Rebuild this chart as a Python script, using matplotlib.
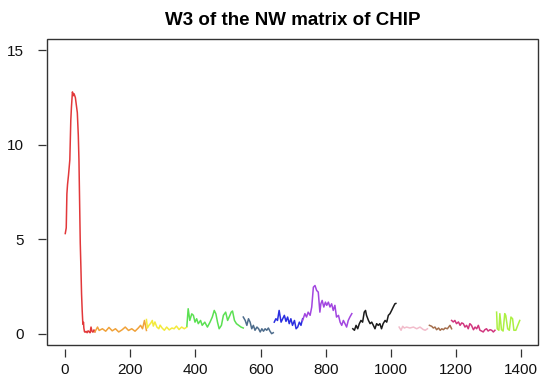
import matplotlib
matplotlib.use("Agg")
import matplotlib.pyplot as plt
from matplotlib.patches import Rectangle

plt.rcParams['font.family'] = ['Liberation Sans', 'DejaVu Sans']

# one line per block of W3, each block in its own colour
red_x = [1, 4, 6, 8, 11, 15, 18, 20, 23, 26, 28, 32, 35, 38, 41, 43, 45, 47, 49, 51,
         53, 55, 57, 58, 60, 62, 65, 68, 71, 74, 77, 80, 83, 86, 89, 92]
red_y = [5.3, 5.6, 7.4, 7.9, 8.4, 9.2, 11.3, 12.0, 12.8, 12.6, 12.7, 12.5, 12.1, 11.7, 10.5, 9.2, 7.0, 4.8, 3.5, 2.1,
         1.2, 0.5, 0.6, 0.3, 0.1, 0.08, 0.12, 0.05, 0.15, 0.1, 0.05, 0.35, 0.12, 0.08, 0.2, 0.1]

orange_x = [92, 100, 105, 115, 125, 135, 145, 155, 165, 175, 185, 195, 205, 215, 225, 232, 238, 244, 250]
orange_y = [0.1, 0.35, 0.17, 0.26, 0.13, 0.33, 0.15, 0.26, 0.09, 0.2, 0.35, 0.17, 0.26, 0.13, 0.3, 0.44, 0.26, 0.7, 0.17]

yellow_x = [250, 253, 258, 263, 268, 271, 276, 282, 288, 292, 298, 305, 312, 320, 328, 335, 342, 350, 358, 366, 374]
yellow_y = [0.75, 0.3, 0.45, 0.55, 0.7, 0.4, 0.62, 0.35, 0.26, 0.45, 0.3, 0.18, 0.35, 0.2, 0.3, 0.26, 0.4, 0.22, 0.35, 0.26, 0.35]

green_x = [374, 378, 383, 389, 394, 399, 404, 409, 416, 421, 429, 437, 445, 452, 458, 463, 468, 473, 480,
           486, 493, 499, 506, 510, 514, 520, 526, 533, 540, 547]
green_y = [0.4, 1.32, 0.7, 1.05, 0.97, 0.61, 0.79, 0.53, 0.7, 0.44, 0.61, 0.35, 0.61, 0.88, 1.23, 1.05, 0.61, 0.26, 0.44,
           0.97, 1.14, 0.7, 0.97, 1.14, 1.2, 0.7, 0.53, 0.44, 0.35, 0.3]

slate_x = [547, 553, 558, 563, 568, 573, 578, 583, 589, 594, 599, 604, 609, 614, 619, 624, 629, 634, 639]
slate_y = [0.88, 0.7, 0.44, 0.79, 0.61, 0.26, 0.44, 0.18, 0.35, 0.26, 0.09, 0.26, 0.13, 0.26, 0.18, 0.3, 0.13, 0.0, 0.05]

blue_x = [642, 647, 652, 657, 663, 668, 673, 678, 683, 688, 693, 698, 704, 709, 714, 719, 724, 729]
blue_y = [0.61, 0.79, 0.7, 1.23, 0.61, 0.79, 0.97, 0.65, 0.88, 0.53, 0.79, 0.44, 0.7, 0.26, 0.35, 0.61, 0.44, 0.79]

purple_x = [729, 736, 741, 746, 752, 757, 762, 767, 772, 777, 782, 785, 789, 794, 799, 803, 808, 813,
            818, 823, 828, 833, 839, 844, 849, 854, 859, 864, 869, 874, 880]
purple_y = [0.7, 1.06, 0.88, 1.14, 0.97, 1.41, 2.46, 2.55, 2.29, 2.2, 1.14, 1.58, 1.76, 1.41, 1.67, 1.5, 1.67, 1.41,
            1.58, 1.23, 1.5, 0.88, 0.97, 0.61, 0.44, 0.7, 0.53, 0.35, 0.7, 0.88, 1.06]

black_x = [883, 888, 893, 898, 903, 908, 913, 918, 922, 925, 931, 936, 941, 946, 951, 956, 961, 966,
           971, 976, 982, 987, 992, 997, 1002, 1007, 1012, 1015]
black_y = [0.26, 0.18, 0.44, 0.26, 0.53, 0.7, 0.61, 1.14, 1.23, 0.97, 0.7, 0.53, 0.61, 0.44, 0.26, 0.53, 0.44, 0.53,
           0.26, 0.53, 0.7, 0.61, 0.97, 1.06, 1.23, 1.41, 1.58, 1.6]

pink_x = [1025, 1031, 1036, 1041, 1048, 1058, 1069, 1079, 1089, 1099, 1105, 1112]
pink_y = [0.35, 0.18, 0.39, 0.3, 0.35, 0.3, 0.35, 0.26, 0.35, 0.22, 0.18, 0.26]

brown_x = [1118, 1125, 1130, 1135, 1140, 1146, 1151, 1156, 1161, 1166, 1173, 1181, 1186]
brown_y = [0.44, 0.39, 0.3, 0.35, 0.21, 0.3, 0.18, 0.26, 0.21, 0.3, 0.26, 0.44, 0.26]

magenta_x = [1186, 1191, 1196, 1201, 1207, 1212, 1217, 1222, 1227, 1232, 1237, 1242, 1247, 1253,
             1258, 1263, 1268, 1273, 1278, 1283, 1288, 1293, 1298, 1304, 1309, 1314, 1319]
magenta_y = [0.7, 0.62, 0.7, 0.53, 0.62, 0.44, 0.57, 0.53, 0.35, 0.44, 0.26, 0.53, 0.44, 0.21,
             0.35, 0.26, 0.44, 0.18, 0.14, 0.09, 0.21, 0.26, 0.14, 0.21, 0.18, 0.09, 0.18]

lime_x = [1324, 1326, 1331, 1334, 1339, 1344, 1349, 1352, 1358, 1363, 1368, 1373, 1377, 1383, 1391, 1395]
lime_y = [1.14, 0.26, 0.18, 1.06, 0.21, 0.14, 1.06, 0.97, 0.26, 0.18, 0.88, 0.79, 0.18, 0.18, 0.53, 0.7]

segments = [
    (red_x, red_y, '#e2383a'),
    (orange_x, orange_y, '#f0a23a'),
    (yellow_x, yellow_y, '#f3ea3c'),
    (green_x, green_y, '#5be052'),
    (slate_x, slate_y, '#4d6c8c'),
    (blue_x, blue_y, '#2a2ee0'),
    (purple_x, purple_y, '#a246e0'),
    (black_x, black_y, '#1a1a1a'),
    (pink_x, pink_y, '#f2bccb'),
    (brown_x, brown_y, '#a46e4c'),
    (magenta_x, magenta_y, '#d1367e'),
    (lime_x, lime_y, '#acf043'),
]

x_ticks = [0, 200, 400, 600, 800, 1000, 1200, 1400]
y_ticks = [0, 5, 10, 15]

fig = plt.figure(figsize=(5.43, 3.80), dpi=100)
ax = fig.add_axes([47 / 543, 35 / 380, 491 / 543, 306 / 380])

for xs, ys, col in segments:
    ax.plot(xs, ys, color=col, linewidth=1.1, solid_joinstyle='round')

ax.set_xlim(-55, 1451)
ax.set_ylim(-0.6, 15.6)
ax.set_xticks(x_ticks)
ax.set_yticks(y_ticks)
ax.set_yticklabels([str(v) for v in y_ticks], rotation=90, va='center')

# R-like box with axes sitting slightly away from it
for side in ['top', 'right', 'bottom', 'left']:
    ax.spines[side].set_color('none')
ax.spines['bottom'].set_position(('outward', 3))
ax.spines['left'].set_position(('outward', 1))
ax.add_patch(Rectangle((0, 0), 1, 1, transform=ax.transAxes, fill=False,
                       edgecolor='#333333', linewidth=1.0, clip_on=False))
ax.tick_params(axis='both', direction='out', length=6, width=0.9, color='#333333',
               labelsize=11, labelcolor='#111111')
ax.tick_params(axis='x', pad=4)
ax.tick_params(axis='y', pad=10)

ax.set_title('W3 of the NW matrix of CHIP', fontsize=13.5, fontweight='bold', pad=10)

fig.savefig('out.png', dpi=100)
